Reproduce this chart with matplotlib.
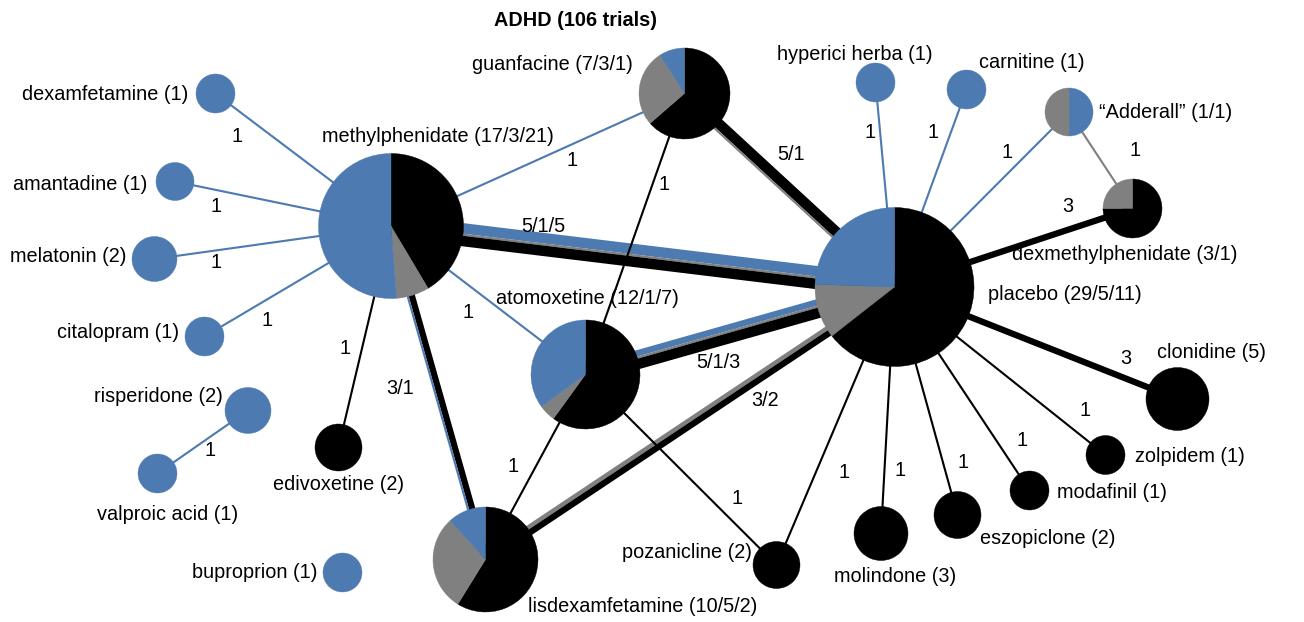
import numpy as np
import matplotlib.pyplot as plt
from matplotlib.patches import Wedge, Polygon

plt.rcParams['font.family'] = ['Liberation Sans', 'DejaVu Sans']

BLACK = '#000000'
GRAY = '#808080'
BLUE = '#4d7ab0'

# trials per treatment: black / gray / blue
drugs = ['methylphenidate', 'guanfacine', 'hyperici herba', 'carnitine', '\u201cAdderall\u201d',
         'dexmethylphenidate', 'placebo', 'clonidine', 'zolpidem', 'modafinil', 'eszopiclone',
         'molindone', 'pozanicline', 'lisdexamfetamine', 'atomoxetine', 'edivoxetine',
         'buproprion', 'valproic acid', 'risperidone', 'citalopram', 'melatonin', 'amantadine',
         'dexamfetamine']
n_black = [17, 7, 0, 0, 0, 3, 29, 5, 1, 1, 2, 3, 2, 10, 12, 2, 0, 0, 0, 0, 0, 0, 0]
n_gray = [3, 3, 0, 0, 1, 1, 5, 0, 0, 0, 0, 0, 0, 5, 1, 0, 0, 0, 0, 0, 0, 0, 0]
n_blue = [21, 1, 1, 1, 1, 0, 11, 0, 0, 0, 0, 0, 0, 2, 7, 0, 1, 1, 2, 1, 2, 1, 1]

# comparisons: black / gray / blue trials per edge
edge_a = ['methylphenidate', 'methylphenidate', 'methylphenidate', 'methylphenidate',
          'methylphenidate', 'methylphenidate', 'methylphenidate', 'methylphenidate',
          'methylphenidate', 'risperidone', 'guanfacine', 'guanfacine', 'placebo', 'placebo',
          'placebo', 'placebo', 'atomoxetine', 'lisdexamfetamine', 'placebo', 'placebo',
          'placebo', 'placebo', 'placebo', 'placebo', '\u201cAdderall\u201d', 'atomoxetine',
          'atomoxetine']
edge_b = ['dexamfetamine', 'amantadine', 'melatonin', 'citalopram', 'edivoxetine',
          'lisdexamfetamine', 'atomoxetine', 'guanfacine', 'placebo', 'valproic acid',
          'atomoxetine', 'placebo', 'hyperici herba', 'carnitine', '\u201cAdderall\u201d',
          'dexmethylphenidate', 'placebo', 'placebo', 'clonidine', 'zolpidem', 'modafinil',
          'eszopiclone', 'molindone', 'pozanicline', 'dexmethylphenidate', 'lisdexamfetamine',
          'pozanicline']
e_black = [0, 0, 0, 0, 1, 3, 0, 0, 5, 0, 1, 5, 0, 0, 0, 3, 5, 3, 3, 1, 1, 1, 1, 1, 0, 1, 1]
e_gray = [0, 0, 0, 0, 0, 0, 0, 0, 1, 0, 0, 1, 0, 0, 0, 0, 1, 2, 0, 0, 0, 0, 0, 0, 1, 0, 0]
e_blue = [1, 1, 1, 1, 0, 1, 1, 1, 5, 1, 0, 0, 1, 1, 1, 0, 3, 0, 0, 0, 0, 0, 0, 0, 0, 0, 0]

# layout in pixels: centre x, centre y, radius
pos = {
    'methylphenidate': (391, 226, 72.5), 'guanfacine': (684.5, 93.5, 45.5),
    'hyperici herba': (875.5, 82.5, 19.5), 'carnitine': (966.5, 89.5, 19.5),
    '\u201cAdderall\u201d': (1069, 112, 24), 'dexmethylphenidate': (1132.5, 208.5, 29.5),
    'placebo': (894.5, 287, 79.5), 'clonidine': (1177.5, 399, 31.5),
    'zolpidem': (1105.5, 455, 19.5), 'modafinil': (1029.5, 490.5, 19.5),
    'eszopiclone': (957.5, 515, 23.5), 'molindone': (881, 533.5, 27),
    'pozanicline': (776.5, 565, 23.5), 'lisdexamfetamine': (485.5, 559.5, 52.5),
    'atomoxetine': (585.5, 374.5, 54.5), 'edivoxetine': (338.5, 447.5, 23.5),
    'buproprion': (342.5, 572.5, 19.5), 'valproic acid': (157.5, 473.5, 19.5),
    'risperidone': (248, 410.5, 23), 'citalopram': (204.5, 336.5, 19.5),
    'melatonin': (154.5, 259, 22.5), 'amantadine': (175, 181.5, 19),
    'dexamfetamine': (215.5, 93.5, 19.5),
}
# node label anchors: x, y, ha
label_at = {
    'methylphenidate': (322, 137, 'left'), 'guanfacine': (633, 65, 'right'),
    'hyperici herba': (855, 55, 'center'), 'carnitine': (979, 63, 'left'),
    '\u201cAdderall\u201d': (1099, 112, 'left'), 'dexmethylphenidate': (1012, 255, 'left'),
    'placebo': (988, 295, 'left'), 'clonidine': (1157, 352, 'left'),
    'zolpidem': (1135, 456, 'left'), 'modafinil': (1057, 493, 'left'),
    'eszopiclone': (980, 539, 'left'), 'molindone': (834, 577, 'left'),
    'pozanicline': (752, 553, 'right'), 'lisdexamfetamine': (757, 606, 'right'),
    'atomoxetine': (496, 299, 'left'), 'edivoxetine': (273, 484, 'left'),
    'buproprion': (318, 572, 'right'), 'valproic acid': (238, 515, 'right'),
    'risperidone': (223, 396, 'right'), 'citalopram': (179, 332, 'right'),
    'melatonin': (126, 257, 'right'), 'amantadine': (147, 184, 'right'),
    'dexamfetamine': (188, 95, 'right'),
}
# edge label centres, same order as edge lists
edge_label_at = [(237, 137), (216, 206), (216, 262), (267, 321), (345, 349), (400, 389),
                 (468, 312), (572, 161), (543, 226), (210, 450), (664, 184), (791, 155),
                 (870, 132), (933, 132), (1007, 152), (1068, 207), (718, 362), (765, 400),
                 (1126, 358), (1085, 410), (1022, 441), (963, 463), (900, 471), (844, 472),
                 (1135, 150), (513, 467), (737, 499)]
# edges whose bands run blue-first across the line
flipped = {8, 16, 17}
pie_order = {'\u201cAdderall\u201d': [2, 1, 0]}

PX_PER_TRIAL = 2.1
FS = 14.3

fig = plt.figure(figsize=(13.04, 6.22), dpi=100)
ax = fig.add_axes([0, 0, 1, 1])
ax.set_xlim(0, 1304)
ax.set_ylim(622, 0)
ax.axis('off')

# edges as stacked bands
for i in range(len(edge_a)):
    xa, ya, _ = pos[edge_a[i]]
    xb, yb, _ = pos[edge_b[i]]
    d = np.array([xb - xa, yb - ya], dtype=float)
    d /= np.hypot(*d)
    n = np.array([-d[1], d[0]])
    bands = [(e_black[i], BLACK), (e_gray[i], GRAY), (e_blue[i], BLUE)]
    if i in flipped:
        bands = bands[::-1]
    total = sum(c for c, _ in bands) * PX_PER_TRIAL
    off = -total / 2
    pa, pb = np.array([xa, ya]), np.array([xb, yb])
    for c, col in bands:
        if c == 0:
            continue
        w = c * PX_PER_TRIAL
        quad = [pa + n * off, pb + n * off, pb + n * (off + w), pa + n * (off + w)]
        ax.add_patch(Polygon(quad, closed=True, facecolor=col, edgecolor='none', zorder=1))
        off += w
    counts = [str(c) for c in (e_black[i], e_gray[i], e_blue[i]) if c]
    lx, ly = edge_label_at[i]
    ax.text(lx, ly, '/'.join(counts), fontsize=FS, ha='center', va='center', zorder=4)

# nodes as pies, clockwise from 12 o'clock
colors = [BLACK, GRAY, BLUE]
for k, name in enumerate(drugs):
    x, y, r = pos[name]
    vals = [n_black[k], n_gray[k], n_blue[k]]
    tot = sum(vals)
    start = -90.0
    for j in pie_order.get(name, [0, 1, 2]):
        if vals[j] == 0:
            continue
        span = 360.0 * vals[j] / tot
        ax.add_patch(Wedge((x, y), r, start, start + span, facecolor=colors[j],
                           edgecolor=colors[j], linewidth=0.3, zorder=2))
        start += span
    lx, ly, ha = label_at[name]
    counts = '/'.join(str(v) for v in vals if v)
    ax.text(lx, ly, f'{name} ({counts})', fontsize=FS, ha=ha, va='center', zorder=4)

ax.text(575, 20, 'ADHD (106 trials)', fontsize=FS, fontweight='bold', ha='center', va='center')

fig.savefig('out.png', dpi=100)
